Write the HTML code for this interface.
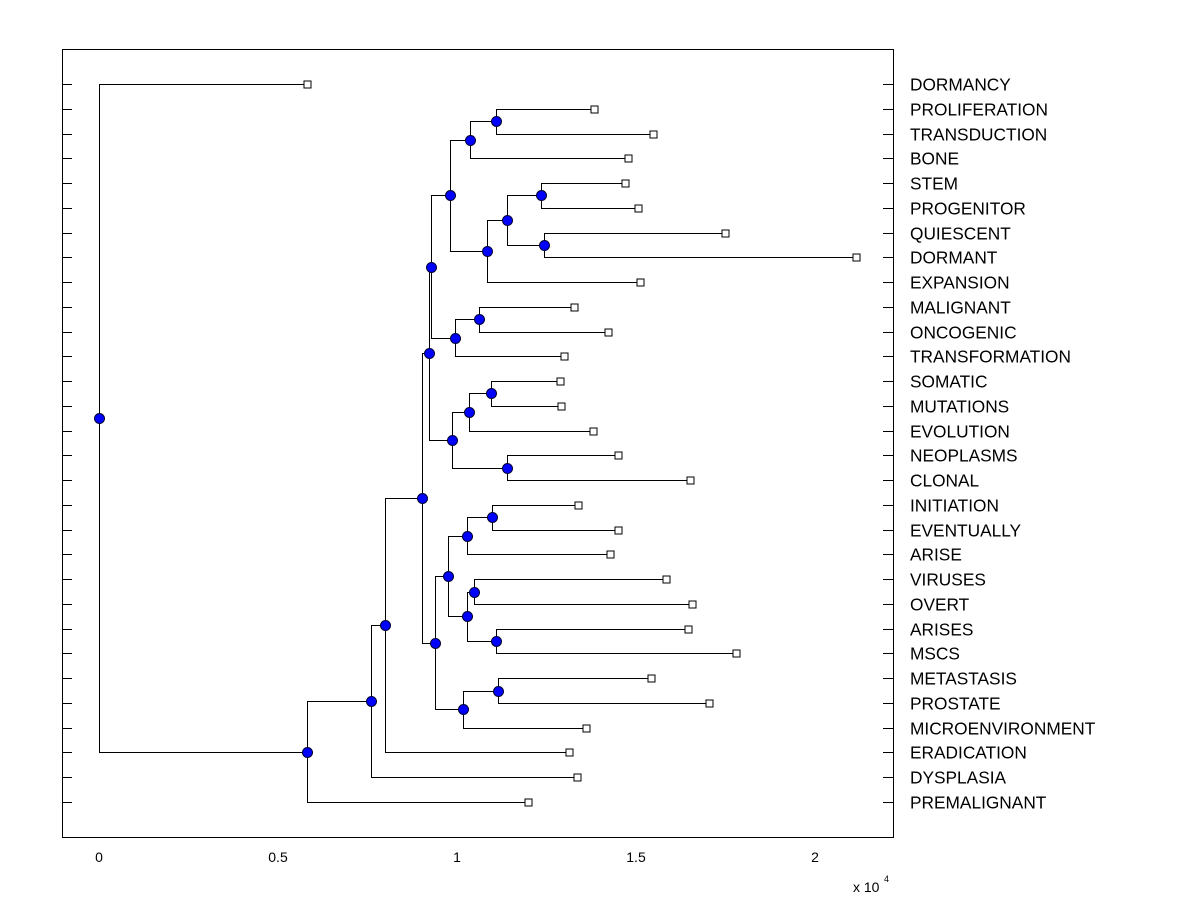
<!DOCTYPE html>
<html><head><meta charset="utf-8"><style>
body{margin:0;background:#fff;}
svg{display:block;font-family:"Liberation Sans",Arial,sans-serif;}
</style></head><body>
<svg id="chart" width="1200" height="900">
<rect x="62.5" y="49.5" width="831" height="788" fill="#fff" stroke="#000" stroke-width="1" shape-rendering="crispEdges"/>
<g id="g"></g>
<text x="853" y="892" font-size="14">x 10</text>
<text x="884" y="882" font-size="9">4</text>
</svg>
<script>
const leafLabels=["DORMANCY","PROLIFERATION","TRANSDUCTION","BONE","STEM","PROGENITOR","QUIESCENT","DORMANT","EXPANSION","MALIGNANT","ONCOGENIC","TRANSFORMATION","SOMATIC","MUTATIONS","EVOLUTION","NEOPLASMS","CLONAL","INITIATION","EVENTUALLY","ARISE","VIRUSES","OVERT","ARISES","MSCS","METASTASIS","PROSTATE","MICROENVIRONMENT","ERADICATION","DYSPLASIA","PREMALIGNANT"];
const leafValues=[5810,13830,15470,14780,14690,15060,17490,21150,15110,13270,14220,12990,12880,12910,13800,14500,16510,13380,14500,14270,15840,16560,16450,17790,15420,17040,13600,13130,13350,11980];
const nodeNames=["pt","a","sp","qd","spqd","b","c","mo","d","e","sm","f","nc","g","h","ie","i","vo","am","j","k","mp","l","m","n","o","p","q","root"];
const nodeValues=[11090,10360,12350,12430,11400,10840,9800,10610,9940,9270,10950,10340,11400,9860,9220,10980,10280,10470,11090,10280,9750,11150,10170,9390,9020,7990,7600,5810,0];
const nodeChildren=[["PROLIFERATION","TRANSDUCTION"],["pt","BONE"],["STEM","PROGENITOR"],["QUIESCENT","DORMANT"],["sp","qd"],["spqd","EXPANSION"],["a","b"],["MALIGNANT","ONCOGENIC"],["mo","TRANSFORMATION"],["c","d"],["SOMATIC","MUTATIONS"],["sm","EVOLUTION"],["NEOPLASMS","CLONAL"],["f","nc"],["e","g"],["INITIATION","EVENTUALLY"],["ie","ARISE"],["VIRUSES","OVERT"],["ARISES","MSCS"],["vo","am"],["i","j"],["METASTASIS","PROSTATE"],["mp","MICROENVIRONMENT"],["k","l"],["h","m"],["n","ERADICATION"],["o","DYSPLASIA"],["p","PREMALIGNANT"],["DORMANCY","q"]];
const xTicks=[0,5000,10000,15000,20000];
const xTickLabels=["0","0.5","1","1.5","2"];

const NS="http://www.w3.org/2000/svg";
const g=document.getElementById('g');
const X=v=>99+v*358/10000;
const rowY=i=>84+i*(802-84)/29;
const P=v=>Math.round(v)+0.5;
function mk(t,a){const e=document.createElementNS(NS,t);for(const k in a)e.setAttribute(k,a[k]);g.appendChild(e);return e;}
const pos={};
leafLabels.forEach((n,i)=>{pos[n]={x:X(leafValues[i]),y:rowY(i)};});
nodeNames.forEach((n,i)=>{const [a,b]=nodeChildren[i];pos[n]={x:X(nodeValues[i]),y:(pos[a].y+pos[b].y)/2};});
nodeNames.forEach((n,i)=>{const p=pos[n];const [a,b]=nodeChildren[i];
 const l=mk('path',{d:`M${P(pos[a].x)},${P(pos[a].y)}H${P(p.x)}V${P(pos[b].y)}H${P(pos[b].x)}`,fill:'none',stroke:'#000','stroke-width':1,'shape-rendering':'crispEdges'});
 
 
});
leafLabels.forEach((n,i)=>{const y=P(rowY(i));
 mk('line',{x1:62,x2:72,y1:y,y2:y,stroke:'#000','shape-rendering':'crispEdges'});
 mk('line',{x1:883,x2:893,y1:y,y2:y,stroke:'#000','shape-rendering':'crispEdges'});
 const px=P(pos[n].x);
 const s=mk('rect',{x:px-3.5,y:y-3.5,width:7,height:7,fill:'#fff',stroke:'#000','shape-rendering':'crispEdges'});
 
 
 const t=mk('text',{x:910,y:y+6,'font-size':17.3});t.textContent=n;
 
 
});
nodeNames.forEach(n=>{const p=pos[n];
 const c=mk('circle',{cx:P(p.x),cy:P(p.y),r:5,fill:'#0000ff',stroke:'#000033','stroke-width':1});
 
 
});
xTicks.forEach((v,i)=>{const t=mk('text',{x:X(v),y:862,'font-size':14,'text-anchor':'middle'});t.textContent=xTickLabels[i];
 
 
});
</script>
</body></html>
